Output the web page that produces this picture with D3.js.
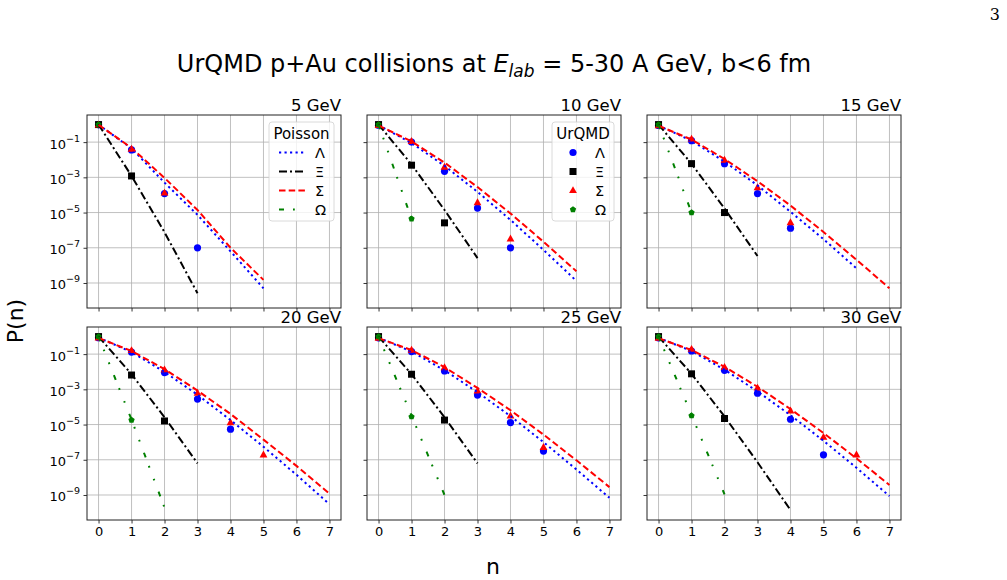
<!DOCTYPE html>
<html>
<head>
<meta charset="utf-8">
<script src="https://cdn.jsdelivr.net/npm/d3@7"></script>
<style>
body { margin: 0; background: #fff; }
svg { font-family: "DejaVu Sans", sans-serif; }
</style>
</head>
<body>
<svg id="chart" width="1007" height="580"></svg>
<script>
var energies = ["5 GeV", "10 GeV", "15 GeV", "20 GeV", "25 GeV", "30 GeV"];
var nTicks = [0, 1, 2, 3, 4, 5, 6, 7];
var yTickExps = [-1, -3, -5, -7, -9];

// UrQMD points, P(n) for n = 0,1,2,...
var urqmdLambda = [
	[0.96, 3.6e-2, 1.2e-4, 1.0e-7],
	[0.92, 1.0e-1, 2.2e-3, 1.8e-5, 1.0e-7],
	[0.88, 1.2e-1, 6.0e-3, 1.2e-4, 1.3e-6],
	[0.86, 1.3e-1, 8.9e-3, 2.8e-4, 5.5e-6],
	[0.84, 1.4e-1, 1.1e-2, 4.7e-4, 1.3e-5, 3.1e-7],
	[0.83, 1.5e-1, 1.2e-2, 6.0e-4, 2.0e-5, 1.9e-7]
];
var urqmdXi = [
	[0.99, 1.2e-3],
	[0.99, 4.9e-3, 2.6e-6],
	[0.99, 6.0e-3, 1.0e-5],
	[0.99, 6.5e-3, 1.6e-5],
	[0.99, 7.2e-3, 1.8e-5],
	[0.99, 7.6e-3, 2.2e-5]
];
var urqmdSigma = [
	[0.95, 4.0e-2, 1.3e-4],
	[0.89, 1.1e-1, 3.8e-3, 3.7e-5, 3.2e-7],
	[0.85, 1.5e-1, 9.5e-3, 2.6e-4, 2.7e-6],
	[0.83, 1.6e-1, 1.3e-2, 6.0e-4, 1.3e-5, 1.9e-7],
	[0.81, 1.7e-1, 1.7e-2, 8.1e-4, 3.1e-5, 5.1e-7],
	[0.80, 1.9e-1, 1.8e-2, 1.2e-3, 6.0e-5, 1.9e-6, 1.9e-7]
];
var urqmdOmega = [
	[1.0],
	[1.0, 4.4e-6],
	[1.0, 1.0e-5],
	[1.0, 1.8e-5],
	[1.0, 2.8e-5],
	[1.0, 3.2e-5]
];

// Poisson curves, P(n) for n = 0,1,2,...
var poissonLambda = [
	[0.97, 4.4e-2, 5.0e-4, 7.4e-6, 6.3e-8, 5.0e-10],
	[0.90, 9.0e-2, 4.5e-3, 1.5e-4, 3.8e-6, 7.6e-8, 1.3e-9],
	[0.87, 1.2e-1, 7.8e-3, 3.5e-4, 1.1e-5, 3.1e-7, 6.8e-9],
	[0.86, 1.3e-1, 9.8e-3, 4.9e-4, 1.8e-5, 5.5e-7, 1.4e-8, 3.0e-10],
	[0.84, 1.4e-1, 1.2e-2, 6.9e-4, 3.0e-5, 1.0e-6, 2.8e-8, 6.9e-10],
	[0.84, 1.5e-1, 1.3e-2, 7.6e-4, 3.4e-5, 1.2e-6, 3.5e-8, 8.7e-10]
];
var poissonXi = [
	[1.0, 1.2e-3, 7.6e-7, 2.6e-10],
	[1.0, 5.4e-3, 1.4e-5, 2.6e-8],
	[0.99, 5.9e-3, 1.7e-5, 3.4e-8],
	[0.99, 7.2e-3, 2.6e-5, 6.3e-8],
	[0.99, 7.2e-3, 2.6e-5, 6.3e-8],
	[0.99, 7.6e-3, 2.9e-5, 7.2e-8, 1.4e-10]
];
var poissonSigma = [
	[0.96, 4.7e-2, 9.3e-4, 1.4e-5, 1.0e-7, 1.5e-9],
	[0.88, 1.1e-1, 6.9e-3, 2.8e-4, 8.9e-6, 2.2e-7, 4.6e-9],
	[0.85, 1.4e-1, 1.1e-2, 6.0e-4, 2.5e-5, 7.9e-7, 2.1e-8, 5.0e-10],
	[0.83, 1.5e-1, 1.4e-2, 8.5e-4, 4.0e-5, 1.4e-6, 4.5e-8, 1.2e-9],
	[0.81, 1.7e-1, 1.8e-2, 1.2e-3, 6.5e-5, 2.7e-6, 9.3e-8, 2.8e-9],
	[0.80, 1.7e-1, 1.9e-2, 1.4e-3, 7.6e-5, 3.3e-6, 1.2e-7, 3.7e-9]
];
var poissonOmega = [
	[1.0],
	[1.0, 4.4e-6],
	[1.0, 1.0e-5],
	[1.0, 1.9e-5, 1.9e-10],
	[1.0, 3.2e-5, 1.0e-9],
	[1.0, 3.5e-5, 1.1e-9]
];

var species = [
	{name: "Λ", color: "#0000ff", marker: "circle", dash: "2.2,3.3", urqmd: urqmdLambda, poisson: poissonLambda},
	{name: "Ξ", color: "#000000", marker: "square", dash: "8,3,2,3", urqmd: urqmdXi, poisson: poissonXi},
	{name: "Σ", color: "#ff0000", marker: "triangle", dash: "6.5,3.2", urqmd: urqmdSigma, poisson: poissonSigma},
	{name: "Ω", color: "#008000", marker: "pentagon", dash: "5,9,1.8,12,1.8,12", urqmd: urqmdOmega, poisson: poissonOmega}
];

var svg = d3.select("#chart");
var panelW = 254, panelH = 193;
var lefts = [87, 367, 647], tops = [115, 327];

var x = d3.scaleLinear().domain([-0.35, 7.35]).range([0, panelW]);
var y = d3.scaleLog().domain([Math.pow(10, -10.42), Math.pow(10, 0.54)]).range([panelH, 0]);

function markerPath(type) {
	if (type == "circle") return d3.symbol().type(d3.symbolCircle).size(Math.PI * 3.6 * 3.6)();
	if (type == "square") return "M-3.5,-3.5L3.5,-3.5L3.5,3.5L-3.5,3.5Z";
	if (type == "triangle") return "M0,-4.3L3.9,2.6L-3.9,2.6Z";
	var pts = d3.range(5).map(function(k) {
		var a = -Math.PI / 2 + k * 2 * Math.PI / 5;
		return [3.3 * Math.cos(a), 3.3 * Math.sin(a)];
	});
	return "M" + pts.join("L") + "Z";
}

var line = d3.line()
	.x(function(d, i) { return x(i); })
	.y(function(d) { return y(d); });

energies.forEach(function(label, idx) {
	var col = idx % 3, row = Math.floor(idx / 3);
	var g = svg.append("g").attr("transform", "translate(" + lefts[col] + "," + tops[row] + ")");

	g.append("clipPath").attr("id", "clip" + idx)
		.append("rect").attr("width", panelW).attr("height", panelH);

	// grid
	g.append("g").selectAll("line").data(nTicks).enter().append("line")
		.attr("x1", function(d) { return x(d); }).attr("x2", function(d) { return x(d); })
		.attr("y1", 0).attr("y2", panelH)
		.attr("stroke", "#b0b0b0").attr("stroke-width", 0.8);
	g.append("g").selectAll("line").data(yTickExps).enter().append("line")
		.attr("y1", function(d) { return y(Math.pow(10, d)); }).attr("y2", function(d) { return y(Math.pow(10, d)); })
		.attr("x1", 0).attr("x2", panelW)
		.attr("stroke", "#b0b0b0").attr("stroke-width", 0.8);

	var plot = g.append("g").attr("clip-path", "url(#clip" + idx + ")");

	// UrQMD markers
	species.forEach(function(s) {
		plot.append("g").selectAll("path").data(s.urqmd[idx]).enter().append("path")
			.attr("d", markerPath(s.marker))
			.attr("transform", function(d, i) { return "translate(" + x(i) + "," + y(d) + ")"; })
			.attr("fill", s.color);
	});

	// Poisson lines
	species.forEach(function(s) {
		if (s.poisson[idx].length < 2) return;
		plot.append("path")
			.datum(s.poisson[idx])
			.attr("d", line)
			.attr("fill", "none")
			.attr("stroke", s.color)
			.attr("stroke-width", 2)
			.attr("stroke-dasharray", s.dash);
	});

	// axes
	var xAxis = d3.axisBottom(x).tickValues(nTicks).tickSize(3.5).tickPadding(3)
		.tickFormat(row == 1 ? d3.format("d") : "");
	var xg = g.append("g").attr("transform", "translate(0," + panelH + ")").call(xAxis);
	xg.select(".domain").remove();
	xg.selectAll("text").attr("font-size", 13).attr("font-family", "DejaVu Sans").attr("fill", "#000");
	xg.selectAll("line").attr("stroke", "#000").attr("stroke-width", 0.8);

	var yAxis = d3.axisLeft(y).tickValues(yTickExps.map(function(e) { return Math.pow(10, e); }))
		.tickSize(3.5).tickFormat("");
	var yg = g.append("g").call(yAxis);
	yg.select(".domain").remove();
	yg.selectAll("line").attr("stroke", "#000").attr("stroke-width", 0.8);

	if (col == 0) {
		var lab = g.append("g").selectAll("text").data(yTickExps).enter().append("text")
			.attr("x", -7)
			.attr("y", function(d) { return y(Math.pow(10, d)) + 6.5; })
			.attr("text-anchor", "end")
			.attr("font-size", 13);
		lab.append("tspan").text("10");
		lab.append("tspan").attr("dy", -7).attr("font-size", 9.5).text(function(d) { return "−" + (-d); });
	}

	g.append("rect").attr("width", panelW).attr("height", panelH)
		.attr("fill", "none").attr("stroke", "#222").attr("stroke-width", 1);

	g.append("text").attr("x", panelW).attr("y", -4).attr("text-anchor", "end")
		.attr("font-size", 16.5).text(label);

	if (idx == 0) drawLegend(g, "Poisson", true);
	if (idx == 1) drawLegend(g, "UrQMD", false);
});

function drawLegend(g, title, isLine) {
	var bw = isLine ? 65 : 62, bh = 99;
	var lg = g.append("g").attr("transform", "translate(" + (panelW - 7 - bw) + ",7)");
	lg.append("rect").attr("width", bw).attr("height", bh).attr("rx", 3)
		.attr("fill", "#fff").attr("fill-opacity", 0.8)
		.attr("stroke", "#d0d0d0").attr("stroke-width", 0.8);
	lg.append("text").attr("x", bw / 2).attr("y", 16.5).attr("text-anchor", "middle")
		.attr("font-size", 15).text(title);
	species.forEach(function(s, i) {
		var cy = 30.5 + i * 19;
		if (isLine) {
			lg.append("line").attr("x1", 10).attr("x2", 36).attr("y1", cy).attr("y2", cy)
				.attr("stroke", s.color).attr("stroke-width", 2).attr("stroke-dasharray", s.dash);
		} else {
			lg.append("path").attr("d", markerPath(s.marker))
				.attr("transform", "translate(21," + cy + ")").attr("fill", s.color);
		}
		lg.append("text").attr("x", isLine ? 46 : 43).attr("y", cy + 5)
			.attr("font-size", 14.5).text(s.name);
	});
}

// figure texts
var title = svg.append("text").attr("x", 494).attr("y", 72).attr("text-anchor", "middle").attr("font-size", 24);
title.append("tspan").text("UrQMD p+Au collisions at ");
title.append("tspan").attr("font-style", "italic").text("E");
title.append("tspan").attr("font-style", "italic").attr("font-size", 17).attr("dy", 4.5).text("lab");
title.append("tspan").attr("dy", -4.5).text(" = 5-30 A GeV, b<6 fm");

svg.append("text").attr("transform", "translate(23,321) rotate(-90)").attr("text-anchor", "middle")
	.attr("font-size", 22).text("P(n)");
svg.append("text").attr("x", 493).attr("y", 574).attr("text-anchor", "middle")
	.attr("font-size", 22).text("n");
svg.append("text").attr("x", 1000).attr("y", 20).attr("text-anchor", "end")
	.attr("font-family", "DejaVu Serif").attr("font-size", 16).text("3");
</script>
</body>
</html>
